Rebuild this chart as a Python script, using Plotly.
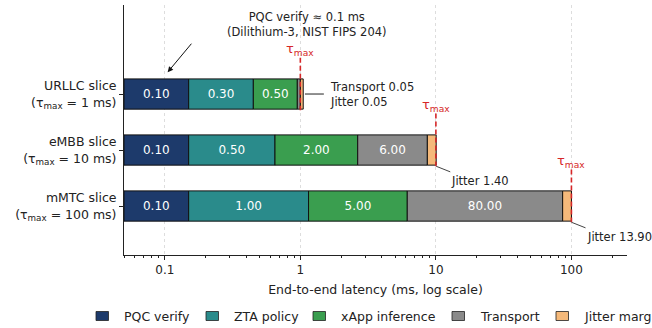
import math
import plotly.graph_objects as go

# ---------------- data ----------------
slices = ["URLLC slice", "eMBB slice", "mMTC slice"]
slice_tick_labels = ["URLLC slice<br>(τ<sub>max</sub> = 1 ms)",
                     "eMBB slice<br>(τ<sub>max</sub> = 10 ms)",
                     "mMTC slice<br>(τ<sub>max</sub> = 100 ms)"]
tau_max = [1, 10, 100]
pqc = [0.10, 0.10, 0.10]
zta = [0.30, 0.50, 1.00]
xapp = [0.50, 2.00, 5.00]
transport = [0.05, 6.00, 80.00]
jitter = [0.05, 1.40, 13.90]
bar_origin = 0.05
components = ["PQC verify", "ZTA policy", "xApp inference", "Transport", "Jitter margin"]
x_tick_vals = [0.1, 1, 10, 100]
x_tick_text = ["0.1", "1", "10", "100"]

# ---------------- style ----------------
colors = ["#1d3a6b", "#2a8b8b", "#3a9e4f", "#8a8a8a", "#f5b97a"]
FONT = "DejaVu Sans, Verdana, sans-serif"
RED = "#d62728"
ypos = [2, 1, 0]
BAR_W = 0.54

series = [pqc, zta, xapp, transport, jitter]

fig = go.Figure()

base = [bar_origin] * 3
for name, vals, col in zip(components, series, colors):
    texts = []
    for v in vals:
        texts.append(f"{v:.2f}" if (name != "Jitter margin" and v >= 0.1) else "")
    fig.add_trace(go.Bar(
        y=ypos, x=vals, base=list(base), orientation="h", name=name,
        marker=dict(color=col, line=dict(color="#111111", width=1)),
        width=BAR_W, text=texts, textposition="inside",
        insidetextanchor="middle", textangle=0, constraintext="none",
        insidetextfont=dict(color="white", size=12, family=FONT),
        showlegend=False, hoverinfo="skip",
    ))
    base = [b + v for b, v in zip(base, vals)]
totals = base

# tau_max dashed lines
for yc, t in zip(ypos, tau_max):
    fig.add_trace(go.Scatter(
        x=[t, t], y=[yc + 0.65, yc - 0.29], mode="lines",
        line=dict(color=RED, width=1.6, dash="5px,3px"),
        showlegend=False, hoverinfo="skip"))
    fig.add_annotation(
        x=math.log10(t), y=yc + 0.79, xref="x", yref="y",
        text="τ<sub>max</sub>", showarrow=False,
        font=dict(color=RED, size=13, family=FONT))

# leader lines
fig.add_trace(go.Scatter(
    x=[totals[0] * 1.03, totals[0] * 1.42], y=[ypos[0], ypos[0]], mode="lines",
    line=dict(color="#222222", width=1), showlegend=False, hoverinfo="skip"))
fig.add_annotation(
    x=math.log10(totals[0] * 1.52), y=ypos[0], xref="x", yref="y",
    text=f"Transport {transport[0]:.2f}<br>Jitter {jitter[0]:.2f}",
    showarrow=False, xanchor="left", align="left",
    font=dict(color="#222222", size=11.5, family=FONT))
for i in (1, 2):
    yc = ypos[i]
    fig.add_trace(go.Scatter(
        x=[totals[i], totals[i] * 1.27], y=[yc - 0.29, yc - 0.39], mode="lines",
        line=dict(color="#444444", width=1), showlegend=False, hoverinfo="skip"))
    fig.add_annotation(
        x=math.log10(totals[i] * 1.25), y=yc - 0.55, xref="x", yref="y",
        text=f"Jitter {jitter[i]:.2f}", showarrow=False, xanchor="left",
        font=dict(color="#222222", size=11.5, family=FONT))

# PQC annotation with arrow
fig.add_annotation(
    x=(225 - 124) / 503, y=(255 - 41) / 250, xref="paper", yref="paper",
    yanchor="bottom",
    text="PQC verify ≈ 0.1 ms<br>(Dilithium-3, NIST FIPS 204)",
    showarrow=False, align="center",
    font=dict(color="#222222", size=11.5, family=FONT))
fig.add_annotation(
    x=math.log10(pqc[0] * 1.05), y=ypos[0] + 0.39, xref="x", yref="y",
    text="", showarrow=True, ax=25, ay=-30, arrowhead=2, arrowsize=1.1,
    arrowwidth=1, arrowcolor="#111111")

# manual legend (overflows right edge like the reference)
sw_left = [96, 206, 313, 452, 556]
leg_y = 316
for name, col, sx in zip(components, colors, sw_left):
    fig.add_shape(type="rect", xref="paper", yref="paper",
                  x0=(sx - 124) / 503, x1=(sx + 12.5 - 124) / 503,
                  y0=(255 - (leg_y + 4.5)) / 250, y1=(255 - (leg_y - 4.5)) / 250,
                  fillcolor=col, line=dict(color="#222222", width=0.8))
    fig.add_annotation(x=(sx + 26 - 124) / 503, y=(255 - leg_y) / 250,
                       xref="paper", yref="paper", text=name, showarrow=False,
                       xanchor="left", yanchor="middle",
                       font=dict(color="#222222", size=12.5, family=FONT))

fig.update_layout(
    width=652, height=328,
    margin=dict(l=124, r=25, t=5, b=73, autoexpand=False),
    paper_bgcolor="white", plot_bgcolor="white",
    font=dict(family=FONT, size=12, color="#222222"),
    barmode="overlay", showlegend=False,
    xaxis=dict(
        type="log", range=[math.log10(bar_origin), 2.41], automargin=False,
        tickvals=x_tick_vals, ticktext=x_tick_text,
        ticks="outside", ticklen=4, tickwidth=1, tickcolor="#222222",
        showline=True, linecolor="#222222", linewidth=1,
        showgrid=True, gridcolor="#dddddd", griddash="dot", gridwidth=1,
        minor=dict(ticks="outside", ticklen=2, tickcolor="#222222",
                   tickvals=[k * 10 ** e for e in range(-2, 3) for k in range(2, 10)],
                   showgrid=False),
        zeroline=False, mirror=False,
        title=dict(text="End-to-end latency (ms, log scale)", standoff=8,
                   font=dict(size=12.5, family=FONT)),
        tickfont=dict(size=12, family=FONT),
    ),
    yaxis=dict(
        range=[-0.875, 3.59], tickvals=ypos, ticktext=slice_tick_labels,
        automargin=False,
        ticks="outside", ticklen=4, tickcolor="#222222",
        showline=True, linecolor="#222222", linewidth=1,
        showgrid=False, zeroline=False,
        tickfont=dict(size=12.5, family=FONT),
    ),
)

fig.write_html("out.html", config={"displayModeBar": False},
               post_script="document.body.style.margin='0';document.body.style.overflow='hidden';")
